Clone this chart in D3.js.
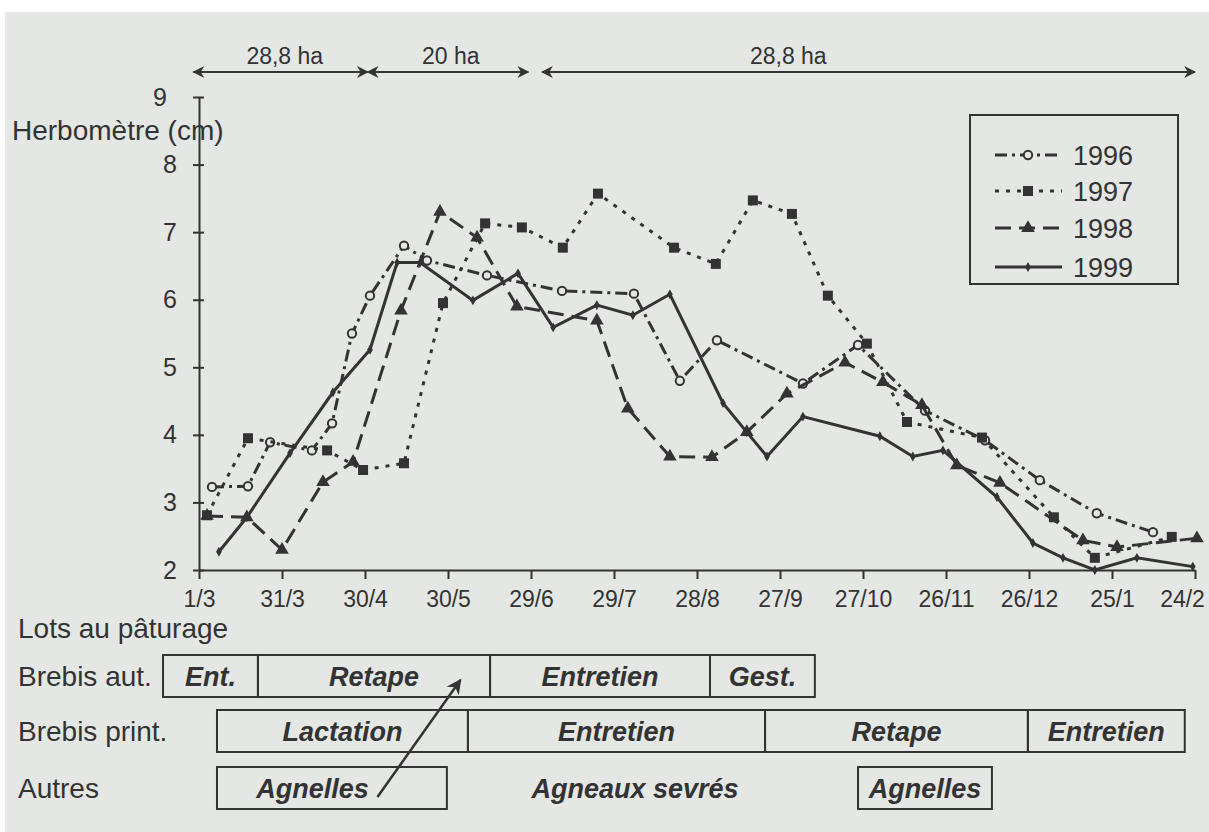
<!DOCTYPE html>
<html>
<head>
<meta charset="utf-8">
<script src="https://cdn.jsdelivr.net/npm/d3@7"></script>
<style>
body { margin: 0; background: #fff; }
svg { display: block; font-family: "Liberation Sans", Arial, sans-serif; }
</style>
</head>
<body>
<svg id="chart" width="1209" height="832"></svg>
<script>
// days counted from 1 March, herbometer height in cm
const days1996 = [4.7, 17.7, 25.7, 40.8, 48.1, 55.3, 61.8, 74.1, 82.4, 104.1, 131.2, 157.2, 173.8, 187.2, 218.3, 238.2, 262.4, 284.1, 303.9, 324.5, 344.8]
const h1996 = [3.23, 3.24, 3.89, 3.77, 4.17, 5.5, 6.06, 6.8, 6.58, 6.36, 6.13, 6.09, 4.8, 5.4, 4.76, 5.33, 4.36, 3.92, 3.33, 2.84, 2.56]

const days1997 = [2.9, 17.7, 46.3, 59.3, 74.1, 88.2, 103.4, 116.7, 131.5, 144.2, 171.7, 186.8, 200.2, 214.3, 227.3, 241.4, 255.9, 283, 309, 323.8, 351.6]
const h1997 = [2.81, 3.95, 3.77, 3.48, 3.58, 5.95, 7.13, 7.07, 6.77, 7.57, 6.77, 6.53, 7.47, 7.27, 6.06, 5.35, 4.19, 3.96, 2.78, 2.18, 2.49]

const days1998 = [2.9, 17.3, 30, 44.8, 55.7, 73, 87.1, 100.5, 114.9, 143.8, 155, 170.2, 185.4, 198, 212.5, 233.5, 247.2, 261.3, 273.9, 289.5, 319.5, 331.8, 360.7]
const h1998 = [2.8, 2.78, 2.3, 3.3, 3.6, 5.84, 7.3, 6.92, 5.9, 5.69, 4.39, 3.68, 3.67, 4.04, 4.61, 5.07, 4.78, 4.44, 3.55, 3.29, 2.44, 2.34, 2.47]

const days1999 = [7.2, 17.3, 32.9, 48.4, 61.8, 71.6, 79.9, 99, 115.3, 128, 143.8, 156.8, 170.2, 189.4, 198, 205.3, 218.3, 246.1, 258, 268.9, 288.4, 301.4, 312.3, 323.8, 339, 359.2]
const h1999 = [2.27, 2.78, 3.73, 4.63, 5.26, 6.55, 6.55, 5.99, 6.39, 5.59, 5.92, 5.77, 6.08, 4.47, 4.04, 3.68, 4.27, 3.98, 3.68, 3.77, 3.08, 2.4, 2.18, 2.0, 2.18, 2.05]

const tickDays = [0, 30, 60, 90, 120, 150, 180, 210, 240, 270, 300, 330, 360]
const tickLabels = ["1/3", "31/3", "30/4", "30/5", "29/6", "29/7", "28/8", "27/9", "27/10", "26/11", "26/12", "25/1", "24/2"]
const yTicks = [2, 3, 4, 5, 6, 7, 8, 9]

// surfaces above the chart
const periodStart = [-2, 61, 124]
const periodEnd = [61, 119, 360]
const periodMid = [31, 91, 213]
const periodLabels = ["28,8 ha", "20 ha", "28,8 ha"]

// grazing lots below the chart
const rowLabels = ["Brebis aut.", "Brebis print.", "Autres"]
const autBreaks = [-13, 21.3, 105.2, 184.7, 222.6]
const autLabels = ["Ent.", "Retape", "Entretien", "Gest."]
const printBreaks = [6.5, 97.2, 204.6, 299.6, 356.3]
const printLabels = ["Lactation", "Entretien", "Retape", "Entretien"]
const autresFrom = [6.5, 90, 238.2]
const autresTo = [89.6, 225, 286.6]
const autresTextDay = [41, 157.6, 262.4]
const autresLabels = ["Agnelles", "Agneaux sevrés", "Agnelles"]
const autresBoxed = [true, false, true]

const ink = "#333"
const bg = "#e5e7e4"
const svg = d3.select("#chart")

svg.append("rect").attr("x", 5).attr("y", 12).attr("width", 1204).attr("height", 820).attr("fill", bg)

const x = d3.scaleLinear().domain([0, 360]).range([199, 1195])
const y = d3.scaleLinear().domain([2, 9]).range([570, 97])

const defs = svg.append("defs")
defs.append("marker")
    .attr("id", "head")
    .attr("viewBox", "0 0 10 10")
    .attr("refX", 9).attr("refY", 5)
    .attr("markerWidth", 6).attr("markerHeight", 6)
    .attr("orient", "auto-start-reverse")
    .append("path").attr("d", "M0,0 L10,5 L0,10 L3,5 Z").attr("fill", ink)

// axes
const gx = svg.append("g").attr("transform", "translate(0,570)")
    .call(d3.axisBottom(x).tickValues(tickDays).tickFormat((d, i) => tickLabels[i])
        .tickSizeInner(9).tickSizeOuter(0).tickPadding(12))
gx.selectAll("text").attr("font-size", 23).attr("fill", ink).attr("font-family", null)
gx.selectAll(".tick").filter(d => d === 360).select("text").attr("dx", -13)

const gy = svg.append("g").attr("transform", "translate(199,0)")
    .call(d3.axisLeft(y).tickValues(yTicks).tickFormat(d3.format("d"))
        .tickSizeInner(6).tickSizeOuter(0).tickPadding(16))
gy.selectAll(".tick").append("line").attr("x2", 5).attr("stroke", "currentColor")
gy.selectAll("text").attr("font-size", 25).attr("fill", ink).attr("font-family", null)
gy.selectAll(".tick").filter(d => d === 9).select("text").attr("dx", -10)
svg.selectAll(".domain, .tick line").attr("stroke", ink).attr("stroke-width", 2)

svg.append("text").attr("x", 12).attr("y", 140).attr("font-size", 28).attr("fill", ink)
    .text("Herbomètre (cm)")

// period arrows
periodLabels.forEach((lab, i) => {
    svg.append("line")
        .attr("x1", x(periodStart[i])).attr("x2", x(periodEnd[i]))
        .attr("y1", 72).attr("y2", 72)
        .attr("stroke", ink).attr("stroke-width", 2)
        .attr("marker-start", "url(#head)").attr("marker-end", "url(#head)")
    svg.append("text").attr("x", x(periodMid[i])).attr("y", 64)
        .attr("text-anchor", "middle").attr("font-size", 23).attr("fill", ink)
        .text(lab)
})

// series
const series = [
    {year: "1996", days: days1996, h: h1996, dash: "12,5,3,5", sym: d3.symbolCircle, size: 55, open: true},
    {year: "1997", days: days1997, h: h1997, dash: "4,7", sym: d3.symbolSquare, size: 100, open: false},
    {year: "1998", days: days1998, h: h1998, dash: "16,8", sym: d3.symbolTriangle, size: 80, open: false},
    {year: "1999", days: days1999, h: h1999, dash: null, sym: d3.symbolDiamond, size: 28, open: false}
]

const line = d3.line().x(d => x(d[0])).y(d => y(d[1]))

series.forEach(s => {
    const pts = s.days.map((d, i) => [d, s.h[i]])
    svg.append("path")
        .attr("d", line(pts))
        .attr("fill", "none")
        .attr("stroke", ink)
        .attr("stroke-width", 3)
        .attr("stroke-dasharray", s.dash)
    svg.append("g").selectAll("path")
        .data(pts)
        .join("path")
        .attr("transform", d => `translate(${x(d[0])},${y(d[1])})`)
        .attr("d", d3.symbol(s.sym, s.size))
        .attr("fill", s.open ? bg : ink)
        .attr("stroke", ink)
        .attr("stroke-width", s.open ? 2 : 0)
})

// legend
const legend = svg.append("g")
legend.append("rect").attr("x", 970).attr("y", 115).attr("width", 208).attr("height", 169)
    .attr("fill", "none").attr("stroke", ink).attr("stroke-width", 2)
const legendY = [155, 191, 228, 267]
series.forEach((s, i) => {
    legend.append("line").attr("x1", 995).attr("x2", 1062)
        .attr("y1", legendY[i]).attr("y2", legendY[i])
        .attr("stroke", ink).attr("stroke-width", 3).attr("stroke-dasharray", s.dash)
    legend.append("path").attr("transform", `translate(1028,${legendY[i]})`)
        .attr("d", d3.symbol(s.sym, s.size))
        .attr("fill", s.open ? bg : ink)
        .attr("stroke", ink).attr("stroke-width", s.open ? 2 : 0)
    legend.append("text").attr("x", 1073).attr("y", legendY[i]).attr("dy", "0.36em")
        .attr("font-size", 27).attr("fill", ink).text(s.year)
})

// grazing lots
const rowY = [676, 731, 788]
const boxH = 42
svg.append("text").attr("x", 18).attr("y", 628).attr("dy", "0.36em")
    .attr("font-size", 28).attr("fill", ink).text("Lots au pâturage")
rowLabels.forEach((lab, i) => {
    svg.append("text").attr("x", 18).attr("y", rowY[i]).attr("dy", "0.36em")
        .attr("font-size", 28).attr("fill", ink).text(lab)
})

function drawBoxes(breaks, labels, cy) {
    labels.forEach((lab, i) => {
        const x0 = x(breaks[i]), x1 = x(breaks[i + 1])
        svg.append("rect").attr("x", x0).attr("y", cy - boxH / 2)
            .attr("width", x1 - x0).attr("height", boxH)
            .attr("fill", "none").attr("stroke", ink).attr("stroke-width", 2)
        svg.append("text").attr("x", (x0 + x1) / 2).attr("y", cy).attr("dy", "0.36em")
            .attr("text-anchor", "middle").attr("font-size", 27)
            .attr("font-weight", "bold").attr("font-style", "italic").attr("fill", ink)
            .text(lab)
    })
}
drawBoxes(autBreaks, autLabels, rowY[0])
drawBoxes(printBreaks, printLabels, rowY[1])

autresLabels.forEach((lab, i) => {
    const x0 = x(autresFrom[i]), x1 = x(autresTo[i])
    if (autresBoxed[i]) {
        svg.append("rect").attr("x", x0).attr("y", rowY[2] - boxH / 2)
            .attr("width", x1 - x0).attr("height", boxH)
            .attr("fill", "none").attr("stroke", ink).attr("stroke-width", 2)
    }
    svg.append("text").attr("x", x(autresTextDay[i])).attr("y", rowY[2]).attr("dy", "0.36em")
        .attr("text-anchor", "middle").attr("font-size", 27)
        .attr("font-weight", "bold").attr("font-style", "italic").attr("fill", ink)
        .text(lab)
})

// arrow from the ewe lambs to the "Retape" lot
svg.append("line")
    .attr("x1", x(64.5)).attr("y1", rowY[2] + 9)
    .attr("x2", x(94.5)).attr("y2", rowY[0] + 4)
    .attr("stroke", ink).attr("stroke-width", 2.5)
    .attr("marker-end", "url(#head)")
</script>
</body>
</html>
